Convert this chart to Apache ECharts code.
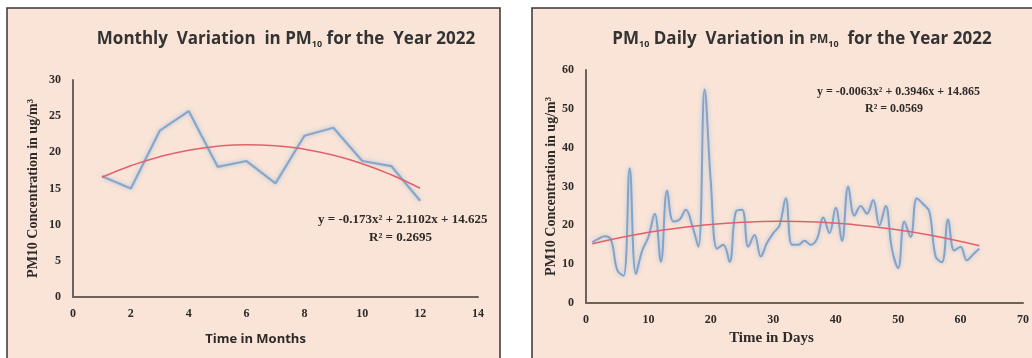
<!DOCTYPE html>
<html>
<head>
<meta charset="utf-8">
<script src="https://cdn.jsdelivr.net/npm/echarts@6/dist/echarts.min.js"></script>
<style>
html,body{margin:0;padding:0;background:#fff;}
#chart{width:1032px;height:358px;}
</style>
</head>
<body>
<div id="chart"></div>
<script>
// monthly values (left panel)
let months = [1, 2, 3, 4, 5, 6, 7, 8, 9, 10, 11, 12];
let monthlyPM = [16.7, 15.0, 23.0, 25.7, 18.0, 18.8, 15.7, 22.3, 23.4, 18.8, 18.1, 13.3];
let monthlyTrend = [16.56, 18.15, 19.40, 20.30, 20.85, 21.06, 20.92, 20.44, 19.60, 18.43, 16.90, 15.04];

// daily values (right panel), day 1..63
let dailyPM = [
    15.7, 16.5, 17.2, 16.3, 8.5, 7.0, 34.7, 7.5, 13.5, 17.0,
    23.0, 10.6, 29.0, 21.0, 21.5, 24.0, 20.0, 14.5, 55.0, 31.0,
    14.0, 15.0, 10.6, 23.5, 24.0, 14.5, 17.5, 12.0, 15.5, 18.0,
    20.0, 27.0, 15.0, 15.0, 16.0, 15.0, 16.5, 22.0, 18.0, 24.5,
    16.0, 30.0, 22.5, 25.0, 23.0, 26.5, 20.0, 25.0, 14.0, 9.0,
    21.0, 17.0, 27.0, 25.5, 23.5, 12.0, 10.5, 21.5, 13.5, 14.5,
    11.0, 12.5, 14.0
];
let trendDays = [1, 7, 13, 19, 25, 31, 37, 43, 49, 55, 61, 63];
let dailyTrend = [15.25, 17.32, 18.93, 20.09, 20.79, 21.04, 20.84, 20.18, 19.07, 17.51, 15.49, 14.72];

let monthTicks = [0, 2, 4, 6, 8, 10, 12, 14];
let dayTicks = [0, 10, 20, 30, 40, 50, 60, 70];

let days = dailyPM.map(function (v, i) { return i + 1; });

function pairs(xs, ys) {
    return xs.map(function (x, i) { return [x, ys[i]]; });
}

let myChart = echarts.init(document.getElementById('chart'));

let serif = '"Liberation Serif", "DejaVu Serif", serif';
let sans = '"Open Sans", "Noto Sans", sans-serif';
let axisCol = '#6e625c';
let textCol = '#2f2a28';

function xAxisOf(idx, max, step, name, nameFont, nameSize, nameGap, shift) {
    return {
        type: 'value', gridIndex: idx, min: 0, max: max, interval: step,
        name: name, nameLocation: 'middle', nameGap: nameGap,
        nameTextStyle: {fontFamily: nameFont, fontWeight: 'bold', fontSize: nameSize, color: textCol,
                        padding: [0, shift, 0, 0]},
        axisLine: {show: true, lineStyle: {color: axisCol, width: 2}},
        axisTick: {show: false},
        splitLine: {show: false},
        axisLabel: {fontFamily: serif, fontWeight: 'bold', fontSize: 12, color: textCol, margin: 11}
    };
}
function yAxisOf(idx, max, step, nameGap) {
    return {
        type: 'value', gridIndex: idx, min: 0, max: max, interval: step,
        name: 'PM10 Concentration in ug/m³', nameLocation: 'middle', nameGap: nameGap,
        nameTextStyle: {fontFamily: serif, fontWeight: 'bold', fontSize: 14, color: textCol},
        axisLine: {show: true, lineStyle: {color: axisCol, width: 2}},
        axisTick: {show: false},
        splitLine: {show: false},
        axisLabel: {fontFamily: serif, fontWeight: 'bold', fontSize: 12, color: textCol, margin: 12}
    };
}

let option = {
    animation: false,
    backgroundColor: '#ffffff',
    graphic: [
        {type: 'rect', z: -10, shape: {x: 7, y: 8, width: 493, height: 360},
         style: {fill: '#f9e4d7', stroke: '#3a3432', lineWidth: 1.5}},
        {type: 'rect', z: -10, shape: {x: 532, y: 8, width: 520, height: 360},
         style: {fill: '#f9e4d7', stroke: '#3a3432', lineWidth: 1.5}},
        {type: 'text', left: 318, top: 213, z: 10,
         style: {text: 'y = -0.173x² + 2.1102x + 14.625', fontFamily: serif, fontWeight: 'bold', fontSize: 13, fill: textCol}},
        {type: 'text', left: 369, top: 231, z: 10,
         style: {text: 'R² = 0.2695', fontFamily: serif, fontWeight: 'bold', fontSize: 13, fill: textCol}},
        {type: 'text', left: 817, top: 86, z: 10,
         style: {text: 'y = -0.0063x² + 0.3946x + 14.865', fontFamily: serif, fontWeight: 'bold', fontSize: 12, fill: textCol}},
        {type: 'text', left: 865, top: 103, z: 10,
         style: {text: 'R² = 0.0569', fontFamily: serif, fontWeight: 'bold', fontSize: 12, fill: textCol}}
    ],
    title: [{
        text: '{a|Monthly  Variation  in PM}{s|10}{a| for the  Year 2022}',
        left: 281, top: 25, textAlign: 'center',
        textStyle: {
            rich: {
                a: {fontFamily: sans, fontWeight: 'bold', fontSize: 17, color: '#333'},
                s: {fontFamily: sans, fontWeight: 'bold', fontSize: 9, color: '#333', padding: [10, 0, 0, 0]}
            }
        }
    }, {
        text: '{a|PM}{s|10}{a| Daily  Variation in }{b|PM}{s|10}{a|  for the Year 2022}',
        left: 797, top: 25, textAlign: 'center',
        textStyle: {
            rich: {
                a: {fontFamily: sans, fontWeight: 'bold', fontSize: 17, color: '#333'},
                b: {fontFamily: sans, fontWeight: 'bold', fontSize: 12, color: '#333'},
                s: {fontFamily: sans, fontWeight: 'bold', fontSize: 9, color: '#333', padding: [10, 0, 0, 0]}
            }
        }
    }],
    grid: [
        {left: 73, top: 80, width: 405, height: 217},
        {left: 586, top: 70, width: 444, height: 233}
    ],
    xAxis: [
        xAxisOf(0, monthTicks[monthTicks.length - 1], monthTicks[1] - monthTicks[0], 'Time in Months', sans, 13, 36, 40),
        xAxisOf(1, dayTicks[dayTicks.length - 1], dayTicks[1] - dayTicks[0], 'Time in Days', serif, 15, 23, 66)
    ],
    yAxis: [
        yAxisOf(0, 30, 5, 33),
        yAxisOf(1, 60, 10, 28)
    ],
    series: [{
        type: 'line', xAxisIndex: 0, yAxisIndex: 0,
        data: pairs(months, monthlyPM),
        showSymbol: false,
        lineStyle: {color: '#89a7c8', width: 2.2, shadowBlur: 4, shadowColor: 'rgba(160,190,225,0.9)'}
    }, {
        type: 'line', xAxisIndex: 0, yAxisIndex: 0,
        data: pairs(months, monthlyTrend),
        smooth: true, showSymbol: false,
        lineStyle: {color: '#e2606a', width: 1.5}
    }, {
        type: 'line', xAxisIndex: 1, yAxisIndex: 1,
        data: pairs(days, dailyPM),
        smooth: 0.4, showSymbol: false,
        lineStyle: {color: '#84a3c6', width: 2, shadowBlur: 4, shadowColor: 'rgba(160,190,225,0.9)'}
    }, {
        type: 'line', xAxisIndex: 1, yAxisIndex: 1,
        data: pairs(trendDays, dailyTrend),
        smooth: true, showSymbol: false,
        lineStyle: {color: '#e2606a', width: 1.5}
    }]
};
myChart.setOption(option);
</script>
</body>
</html>
